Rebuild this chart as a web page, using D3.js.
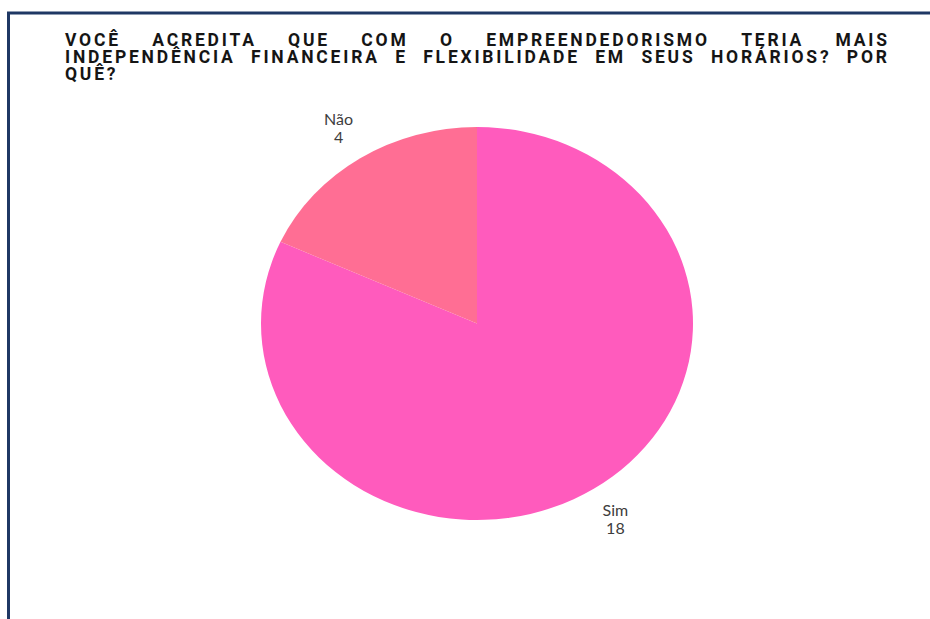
<!DOCTYPE html>
<html>
<head>
<meta charset="utf-8">
<script src="https://cdn.jsdelivr.net/npm/d3@7"></script>
<style>
  html, body { margin: 0; padding: 0; background: #ffffff; }
  svg { display: block; }
</style>
</head>
<body>
<div id="chart"></div>
<script>
// Survey answers
const categories = ["Sim", "Não"];
const counts = [18, 4];
const sliceColors = ["#ff5bbd", "#ff6e94"];
const titleLines = [
  "VOCÊ ACREDITA QUE COM O EMPREENDEDORISMO TERIA MAIS",
  "INDEPENDÊNCIA FINANCEIRA E FLEXIBILIDADE EM SEUS HORÁRIOS? POR",
  "QUÊ?"
];

const W = 930, H = 619;
const svg = d3.select("#chart").append("svg")
  .attr("width", W).attr("height", H);

// Frame: navy rule along the top and left edge
svg.append("rect")
  .attr("x", 8.5).attr("y", 13)
  .attr("width", W + 10).attr("height", H + 10)
  .attr("fill", "none")
  .attr("stroke", "#1f3864")
  .attr("stroke-width", 3);

// Justified title block
const titleLeft = 65, titleRight = 887, tracking = 2.8;
const titleG = svg.append("g")
  .attr("font-family", "Roboto, sans-serif")
  .attr("font-weight", "bold")
  .attr("font-size", 17.5)
  .attr("letter-spacing", tracking + "px")
  .attr("fill", "#151515");

titleLines.forEach((line, i) => {
  const y = 46 + i * 17;
  const words = line.split(" ");
  const nodes = words.map(w => titleG.append("text").attr("y", y).text(w));
  // trailing letter-spacing is not ink, so leave it out of the justification
  const widths = nodes.map(n => n.node().getComputedTextLength() - tracking);
  const justify = i < titleLines.length - 1;
  const total = d3.sum(widths);
  const gap = justify && words.length > 1
    ? (titleRight - titleLeft - total) / (words.length - 1)
    : 8;
  let x = titleLeft;
  nodes.forEach((n, k) => { n.attr("x", x); x += widths[k] + gap; });
});

// Pie (drawn on a circle, then stretched horizontally to an ellipse)
const cx = 477, cy = 323.5, r = 196.5, sx = 216 / 196.5;
const pie = d3.pie().sort(null).value(d => d)(counts);
const arc = d3.arc().innerRadius(0).outerRadius(r);
const labelArc = d3.arc().innerRadius(r * 1.185).outerRadius(r * 1.185);

const pieG = svg.append("g")
  .attr("transform", `translate(${cx},${cy}) scale(${sx},1)`);
pieG.selectAll("path")
  .data(pie)
  .join("path")
  .attr("d", arc)
  .attr("fill", (d, i) => sliceColors[i]);

// Category / count labels outside each slice
const labelG = svg.append("g")
  .attr("font-family", "Lato, 'Open Sans', sans-serif")
  .attr("font-size", 16)
  .attr("fill", "#3d3d3d")
  .attr("text-anchor", "middle");
pie.forEach((d, i) => {
  const [lx, ly] = labelArc.centroid(d);
  const t = labelG.append("text")
    .attr("transform", `translate(${cx + lx * sx},${cy + ly})`);
  t.append("tspan").attr("x", 0).attr("y", -3).text(categories[i]);
  t.append("tspan").attr("x", 0).attr("y", 15).text(counts[i]);
});
</script>
</body>
</html>
